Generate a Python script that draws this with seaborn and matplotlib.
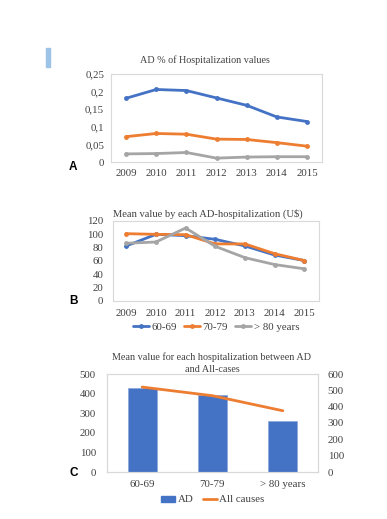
import matplotlib
matplotlib.use("Agg")
import matplotlib.pyplot as plt
import seaborn as sns
import pandas as pd
from matplotlib.lines import Line2D
from matplotlib.patches import Patch, Rectangle

sns.set_theme(style="white")
plt.rcParams['font.family'] = ['Liberation Serif', 'DejaVu Serif']

# ---- data ----
years = [2009, 2010, 2011, 2012, 2013, 2014, 2015]
a_blue = [0.181, 0.206, 0.203, 0.182, 0.161, 0.128, 0.115]
a_orange = [0.072, 0.081, 0.079, 0.065, 0.064, 0.055, 0.045]
a_gray = [0.023, 0.024, 0.027, 0.011, 0.014, 0.015, 0.015]
a_yticks = [0, 0.05, 0.1, 0.15, 0.2, 0.25]
a_yticklabels = ["0", "0,05", "0,1", "0,15", "0,2", "0,25"]

age_groups = ["60-69", "70-79", "> 80 years"]
b_6069 = [82.6, 100, 98, 92.5, 82.6, 69, 60.7]
b_7079 = [101, 100, 99.5, 85.6, 85.6, 71, 60.7]
b_80 = [86.6, 88.5, 109.5, 82, 65, 54.7, 48.3]

c_cats = ["60-69", "70-79", "> 80 years"]
c_ad = [427, 393, 262]
c_all = [520, 467, 375]

BLUE = "#4472C4"
ORANGE = "#ED7D31"
GRAY = "#A5A5A5"
TXT = "#404040"
FRAME = "#D9D9D9"
FS = 7.8
TFS = 7.3

W, H = 387, 519
fig = plt.figure(figsize=(W / 100, H / 100), dpi=100)


def ax_at(left, top, right, bottom):
    return fig.add_axes([left / W, 1 - bottom / H, (right - left) / W, (bottom - top) / H])


def style(ax):
    for s in ax.spines.values():
        s.set_color(FRAME)
        s.set_linewidth(0.8)
    ax.tick_params(length=0, labelsize=FS, colors=TXT)
    ax.set_xlabel("")
    ax.set_ylabel("")
    ax.grid(False)


# ---- panel A ----
axA = ax_at(111, 74, 322, 162)
dfA = pd.DataFrame({
    "year": years * 3,
    "val": a_blue + a_orange + a_gray,
    "grp": ["b"] * 7 + ["o"] * 7 + ["g"] * 7,
})
sns.lineplot(data=dfA, x="year", y="val", hue="grp", palette=[BLUE, ORANGE, GRAY],
             marker="o", markersize=3.5, markeredgewidth=0, linewidth=2, ax=axA, legend=False)
axA.set_ylim(0, 0.25)
axA.set_xlim(2009 - 0.5, 2015 + 0.5)
axA.set_yticks(a_yticks)
axA.set_yticklabels(a_yticklabels)
axA.set_xticks(years)
axA.set_xticklabels([str(y) for y in years])
style(axA)
axA.tick_params(axis="y", pad=5)
axA.tick_params(axis="x", pad=5)
fig.text(205 / W, 1 - 60 / H, "AD % of Hospitalization values", ha="center", va="center",
         fontsize=TFS, color=TXT)
fig.patches.append(Rectangle((46 / W, 1 - 67 / H), 4 / W, 19 / H, transform=fig.transFigure,
                             color="#9DC3E6", zorder=0))
fig.text(73 / W, 1 - 167 / H, "A", ha="center", va="center", fontsize=8.5, fontweight="bold",
         family="Liberation Sans", color="black")

# ---- panel B ----
axB = ax_at(113, 221, 319, 301)
dfB = pd.DataFrame({
    "year": years * 3,
    "val": b_6069 + b_7079 + b_80,
    "grp": [age_groups[0]] * 7 + [age_groups[1]] * 7 + [age_groups[2]] * 7,
})
sns.lineplot(data=dfB, x="year", y="val", hue="grp", hue_order=age_groups,
             palette=[BLUE, ORANGE, GRAY], marker="o", markersize=3.5, markeredgewidth=0,
             linewidth=2, ax=axB, legend=False)
axB.set_ylim(0, 120)
axB.set_xlim(2009 - 0.45, 2015 + 0.5)
axB.set_yticks(range(0, 121, 20))
axB.set_xticks(years)
axB.set_xticklabels([str(y) for y in years])
style(axB)
axB.tick_params(axis="y", pad=7)
axB.tick_params(axis="x", pad=6)
fig.text(208 / W, 1 - 214 / H, "Mean value by each AD-hospitalization (U$)", ha="center",
         va="center", fontsize=TFS + 0.3, color=TXT)
fig.text(73 / W, 1 - 301 / H, "B", ha="center", va="center", fontsize=8.5, fontweight="bold",
         family="Liberation Sans", color="black")
handlesB = [Line2D([0], [0], color=c, lw=2, marker="o", markersize=3.5, markeredgewidth=0)
            for c in (BLUE, ORANGE, GRAY)]
fig.legend(handlesB, age_groups, loc="center", bbox_to_anchor=(216 / W, 1 - 327 / H), ncol=3,
           frameon=False, fontsize=FS, handlelength=1.5, handletextpad=0.25, columnspacing=0.6,
           labelcolor=TXT)

# ---- panel C ----
axC = ax_at(107, 374, 318, 472)
dfC = pd.DataFrame({"cat": c_cats, "ad": c_ad, "all": c_all})
sns.barplot(data=dfC, x="cat", y="ad", color=BLUE, saturation=1, width=0.41, ax=axC,
            edgecolor="#8FAADC", linewidth=0.6)
axC.set_ylim(0, 500)
axC.set_xlim(-0.5, 2.5)
axC.set_yticks(range(0, 501, 100))
style(axC)
axC.tick_params(axis="y", pad=8)
axC.tick_params(axis="x", pad=6)
axC2 = axC.twinx()
axC2.plot(range(len(c_cats)), c_all, color=ORANGE, lw=2)
axC2.set_ylim(0, 600)
axC2.set_yticks(range(0, 601, 100))
style(axC2)
axC2.tick_params(axis="y", pad=7)
fig.text(212 / W, 1 - 357 / H, "Mean value for each hospitalization between AD", ha="center",
         va="center", fontsize=TFS, color=TXT)
fig.text(212 / W, 1 - 369 / H, "and All-cases", ha="center", va="center", fontsize=TFS, color=TXT)
fig.text(74 / W, 1 - 473 / H, "C", ha="center", va="center", fontsize=8.5, fontweight="bold",
         family="Liberation Sans", color="black")
handlesC = [Patch(facecolor=BLUE, edgecolor=BLUE), Line2D([0], [0], color=ORANGE, lw=2)]
fig.legend(handlesC, ["AD", "All causes"], loc="center", bbox_to_anchor=(213 / W, 1 - 500 / H),
           ncol=2, frameon=False, fontsize=FS, handlelength=1.3, handleheight=0.5,
           handletextpad=0.25, columnspacing=0.8, labelcolor=TXT)

fig.savefig("out.png", dpi=100, facecolor="white")
